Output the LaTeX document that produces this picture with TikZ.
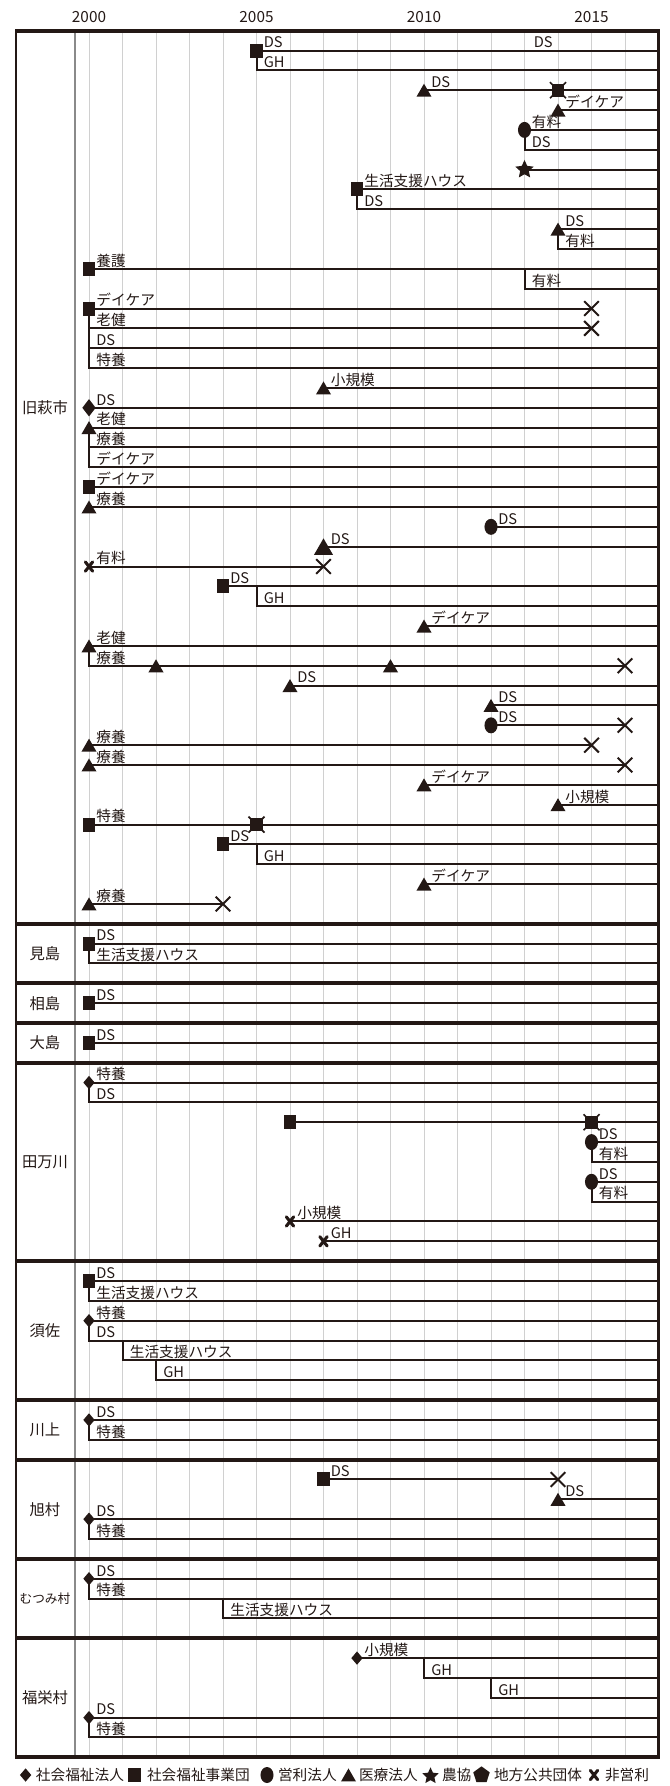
\documentclass[tikz,border=0pt]{standalone}
\usepackage{fontspec}
\newfontfamily\jp{Noto Sans CJK JP}
\usetikzlibrary{shapes.geometric,shapes.misc}
\definecolor{ink}{HTML}{231815}
\definecolor{gridc}{HTML}{D0D0D0}
\definecolor{divc}{HTML}{8A8A8A}
\newcommand\labfont{\jp\fontsize{11pt}{12pt}\selectfont}
\newcommand\secfont{\jp\fontsize{11.5pt}{13pt}\selectfont}
\newcommand\legfont{\jp\fontsize{11pt}{13pt}\selectfont}
\newcommand\yrfont{\jp\fontsize{11.5pt}{13pt}\selectfont}
% entry: id, marker style, year, slot, end year, label
\newcommand\ent[6]{%
  \coordinate (#1) at ({yrx(#3)},{sly(#4)});
  \coordinate (#1e) at ({yrx(#5)},{sly(#4)});
  \draw[row] (#1) -- (#1e);
  \node[#2] (#1m) at (#1) {};
  \node[lab] (#1l) at (#1) {#6};}
% branch: id, year, parent slot, slot, end year, label
\newcommand\br[6]{%
  \coordinate (#1t) at ({yrx(#2)},{sly(#3)});
  \coordinate (#1) at ({yrx(#2)},{sly(#4)});
  \coordinate (#1e) at ({yrx(#5)},{sly(#4)});
  \draw[row] (#1t) |- (#1e);
  \node[lab] (#1l) at (#1) {#6};}
\newcommand\stopX[1]{\node[endx] (#1x) at (#1e) {};}
% crossed square: id, year, slot
\newcommand\xsq[3]{%
  \coordinate (#1) at ({yrx(#2)},{sly(#3)});
  \node[sqm, minimum width=9.5pt, minimum height=9.5pt] (#1s) at (#1) {};
  \node[endx, minimum size=12pt, line width=1.3pt] (#1x) at (#1) {};}
\tikzset{
  every node/.style={inner sep=0pt, outer sep=0pt},
  row/.style={draw=ink, line width=1.5pt},
  gridl/.style={draw=gridc, line width=0.6pt},
  divl/.style={draw=divc, line width=0.9pt},
  border/.style={draw=ink, line width=1.8pt},
  sepl/.style={draw=ink, line width=3pt},
  sqm/.style={rectangle, fill=ink, minimum width=9.3pt, minimum height=10.5pt},
  diam/.style={diamond, fill=ink, minimum width=8.5pt, minimum height=10pt},
  bigdiam/.style={diamond, fill=ink, minimum width=10pt, minimum height=13pt},
  circm/.style={ellipse, fill=ink, minimum width=9.8pt, minimum height=12pt},
  trim/.style={regular polygon, regular polygon sides=3, fill=ink, minimum size=13pt, yshift=-1.6pt},
  bigtri/.style={regular polygon, regular polygon sides=3, fill=ink, minimum size=16.5pt, yshift=-2pt},
  starm/.style={star, star points=5, star point ratio=2.1, fill=ink, minimum size=14.5pt},
  pentm/.style={regular polygon, regular polygon sides=5, fill=ink, minimum size=13pt},
  npo/.style={cross out, draw=ink, line width=2.3pt, line cap=round, minimum width=5.5pt, minimum height=7pt},
  endx/.style={cross out, draw=ink, line width=1.5pt, minimum size=11pt},
  labbase/.style={anchor=base west, font=\labfont, text=ink},
  lab/.style={labbase, xshift=5.5pt, yshift=2pt},
  sec/.style={font=\secfont, text=ink},
  yrl/.style={font=\yrfont, text=ink},
  leg/.style={anchor=west, font=\legfont, text=ink},
}
\begin{document}
\begin{tikzpicture}[x=0.75pt, y=-0.75pt,
  declare function={yrx(\a)=89+33.5*\a; sly(\b)=30.7+19.846*\b;}]
\useasboundingbox (0,0) rectangle (670,1786);
% grid
\foreach \k in {0,...,16} \draw[gridl] ({yrx(\k)},{sly(0)}) -- ({yrx(\k)},{sly(87)});
\draw[divl] (75,{sly(0)}) -- (75,{sly(87)});
% year labels
\node[yrl] (y2000) at ({yrx(0)},17) {2000};
\node[yrl] (y2005) at ({yrx(5)},17) {2005};
\node[yrl] (y2010) at ({yrx(10)},17) {2010};
\node[yrl] (y2015) at ({yrx(15)},17) {2015};
% section labels
\node[sec] (s1) at (45,{sly(19)}) {旧萩市};
\node[sec] (s2) at (45,{sly(46.5)}) {見島};
\node[sec] (s3) at (45,{sly(49)}) {相島};
\node[sec] (s4) at (45,{sly(51)}) {大島};
\node[sec] (s5) at (45,{sly(57)}) {田万川};
\node[sec] (s6) at (45,{sly(65.5)}) {須佐};
\node[sec] (s7) at (45,{sly(70.5)}) {川上};
\node[sec] (s8) at (45,{sly(74.5)}) {旭村};
\node[sec, font=\jp\fontsize{9.5pt}{11pt}\selectfont] (s9) at (45,{sly(79)}) {むつみ村};
\node[sec] (s10) at (45,{sly(84)}) {福栄村};
% ---- 旧萩市
\ent{a1}{sqm}{5}{1}{17}{DS}
\node[labbase, yshift=2pt] (a1d) at ({yrx(13.28)},{sly(1)}) {DS};
\br{a2}{5}{1}{2}{17}{GH}
\ent{a3}{trim}{10}{3}{17}{DS}
\xsq{a3c}{14}{3}
\ent{a4}{trim}{14}{4}{17}{デイケア}
\ent{a5}{circm}{13}{5}{17}{有料}
\br{a6}{13}{5}{6}{17}{DS}
\coordinate (a7) at ({yrx(13)},{sly(7)});
\coordinate (a7e) at ({yrx(17)},{sly(7)});
\draw[row] (a7) -- (a7e);
\node[starm] (a7m) at (a7) {};
\ent{a8}{sqm}{8}{8}{17}{生活支援ハウス}
\br{a9}{8}{8}{9}{17}{DS}
\ent{a10}{trim}{14}{10}{17}{DS}
\br{a11}{14}{10}{11}{17}{有料}
\ent{a12}{sqm}{0}{12}{17}{養護}
\br{a13}{13}{12}{13}{17}{有料}
\ent{a14}{sqm}{0}{14}{15}{デイケア}\stopX{a14}
\br{a15}{0}{14}{15}{15}{老健}\stopX{a15}
\br{a16}{0}{15}{16}{17}{DS}
\br{a17}{0}{16}{17}{17}{特養}
\ent{a18}{trim}{7}{18}{17}{小規模}
\ent{a19}{bigdiam}{0}{19}{17}{DS}
\ent{a20}{trim}{0}{20}{17}{老健}
\br{a21}{0}{20}{21}{17}{療養}
\br{a22}{0}{21}{22}{17}{デイケア}
\ent{a23}{sqm}{0}{23}{17}{デイケア}
\ent{a24}{trim}{0}{24}{17}{療養}
\ent{a25}{circm}{12}{25}{17}{DS}
\ent{a26}{bigtri}{7}{26}{17}{DS}
\ent{a27}{npo}{0}{27}{7}{有料}\stopX{a27}
\ent{a28}{sqm}{4}{28}{17}{DS}
\br{a29}{5}{28}{29}{17}{GH}
\ent{a30}{trim}{10}{30}{17}{デイケア}
\ent{a31}{trim}{0}{31}{17}{老健}
\br{a32}{0}{31}{32}{16}{療養}\stopX{a32}
\node[trim] (a32p) at ({yrx(2)},{sly(32)}) {};
\node[trim] (a32q) at ({yrx(9)},{sly(32)}) {};
\ent{a33}{trim}{6}{33}{17}{DS}
\ent{a34}{trim}{12}{34}{17}{DS}
\ent{a35}{circm}{12}{35}{16}{DS}\stopX{a35}
\ent{a36}{trim}{0}{36}{15}{療養}\stopX{a36}
\ent{a37}{trim}{0}{37}{16}{療養}\stopX{a37}
\ent{a38}{trim}{10}{38}{17}{デイケア}
\ent{a39}{trim}{14}{39}{17}{小規模}
\ent{a40}{sqm}{0}{40}{17}{特養}
\xsq{a40c}{5}{40}
\ent{a41}{sqm}{4}{41}{17}{DS}
\br{a42}{5}{41}{42}{17}{GH}
\ent{a43}{trim}{10}{43}{17}{デイケア}
\ent{a44}{trim}{0}{44}{4}{療養}\stopX{a44}
% ---- 見島
\ent{b1}{sqm}{0}{46}{17}{DS}
\br{b2}{0}{46}{47}{17}{生活支援ハウス}
% ---- 相島, 大島
\ent{c1}{sqm}{0}{49}{17}{DS}
\ent{d1}{sqm}{0}{51}{17}{DS}
% ---- 田万川
\ent{e1}{diam}{0}{53}{17}{特養}
\br{e2}{0}{53}{54}{17}{DS}
\coordinate (e3) at ({yrx(6)},{sly(55)});
\coordinate (e3e) at ({yrx(17)},{sly(55)});
\draw[row] (e3) -- (e3e);
\node[sqm] (e3m) at (e3) {};
\xsq{e3c}{15}{55}
\ent{e4}{circm}{15}{56}{17}{DS}
\br{e5}{15}{56}{57}{17}{有料}
\ent{e6}{circm}{15}{58}{17}{DS}
\br{e7}{15}{58}{59}{17}{有料}
\ent{e8}{npo}{6}{60}{17}{小規模}
\ent{e9}{npo}{7}{61}{17}{GH}
% ---- 須佐
\ent{f1}{sqm}{0}{63}{17}{DS}
\br{f2}{0}{63}{64}{17}{生活支援ハウス}
\ent{f3}{diam}{0}{65}{17}{特養}
\br{f4}{0}{65}{66}{17}{DS}
\br{f5}{1}{66}{67}{17}{生活支援ハウス}
\br{f6}{2}{67}{68}{17}{GH}
% ---- 川上
\ent{g1}{diam}{0}{70}{17}{DS}
\br{g2}{0}{70}{71}{17}{特養}
% ---- 旭村
\ent{h1}{sqm}{7}{73}{14}{DS}\stopX{h1}
\ent{h2}{trim}{14}{74}{17}{DS}
\ent{h3}{diam}{0}{75}{17}{DS}
\br{h4}{0}{75}{76}{17}{特養}
% ---- むつみ村
\ent{i1}{diam}{0}{78}{17}{DS}
\br{i2}{0}{78}{79}{17}{特養}
\br{i3}{4}{79}{80}{17}{生活支援ハウス}
% ---- 福栄村
\ent{j1}{diam}{8}{82}{17}{小規模}
\br{j2}{10}{82}{83}{17}{GH}
\br{j3}{12}{83}{84}{17}{GH}
\ent{j4}{diam}{0}{85}{17}{DS}
\br{j5}{0}{85}{86}{17}{特養}
% frame
\draw[border] (16,{sly(0)}) -- (16,{sly(87)});
\draw[border] (658.5,{sly(0)}) -- (658.5,{sly(87)});
\foreach \s in {0,45,48,50,52,62,69,72,77,81,87}
  \draw[sepl] (15,{sly(\s)}) -- (659.5,{sly(\s)});
% legend
\node[diam] (lg1) at (25.6,1775) {};
\node[leg] (lt1) at (36,1775) {社会福祉法人};
\node[sqm] (lg2) at (134.5,1775) {};
\node[leg] (lt2) at (147,1775) {社会福祉事業団};
\node[circm] (lg3) at (267,1775) {};
\node[leg] (lt3) at (278,1775) {営利法人};
\node[trim] (lg4) at (348.5,1775) {};
\node[leg] (lt4) at (359,1775) {医療法人};
\node[starm, minimum size=13pt] (lg5) at (430.5,1776) {};
\node[leg] (lt5) at (442,1775) {農協};
\node[pentm] (lg6) at (481.5,1775) {};
\node[leg] (lt6) at (494,1775) {地方公共団体};
\node[npo] (lg7) at (594,1775) {};
\node[leg] (lt7) at (605,1775) {非営利};
\end{tikzpicture}
\end{document}
